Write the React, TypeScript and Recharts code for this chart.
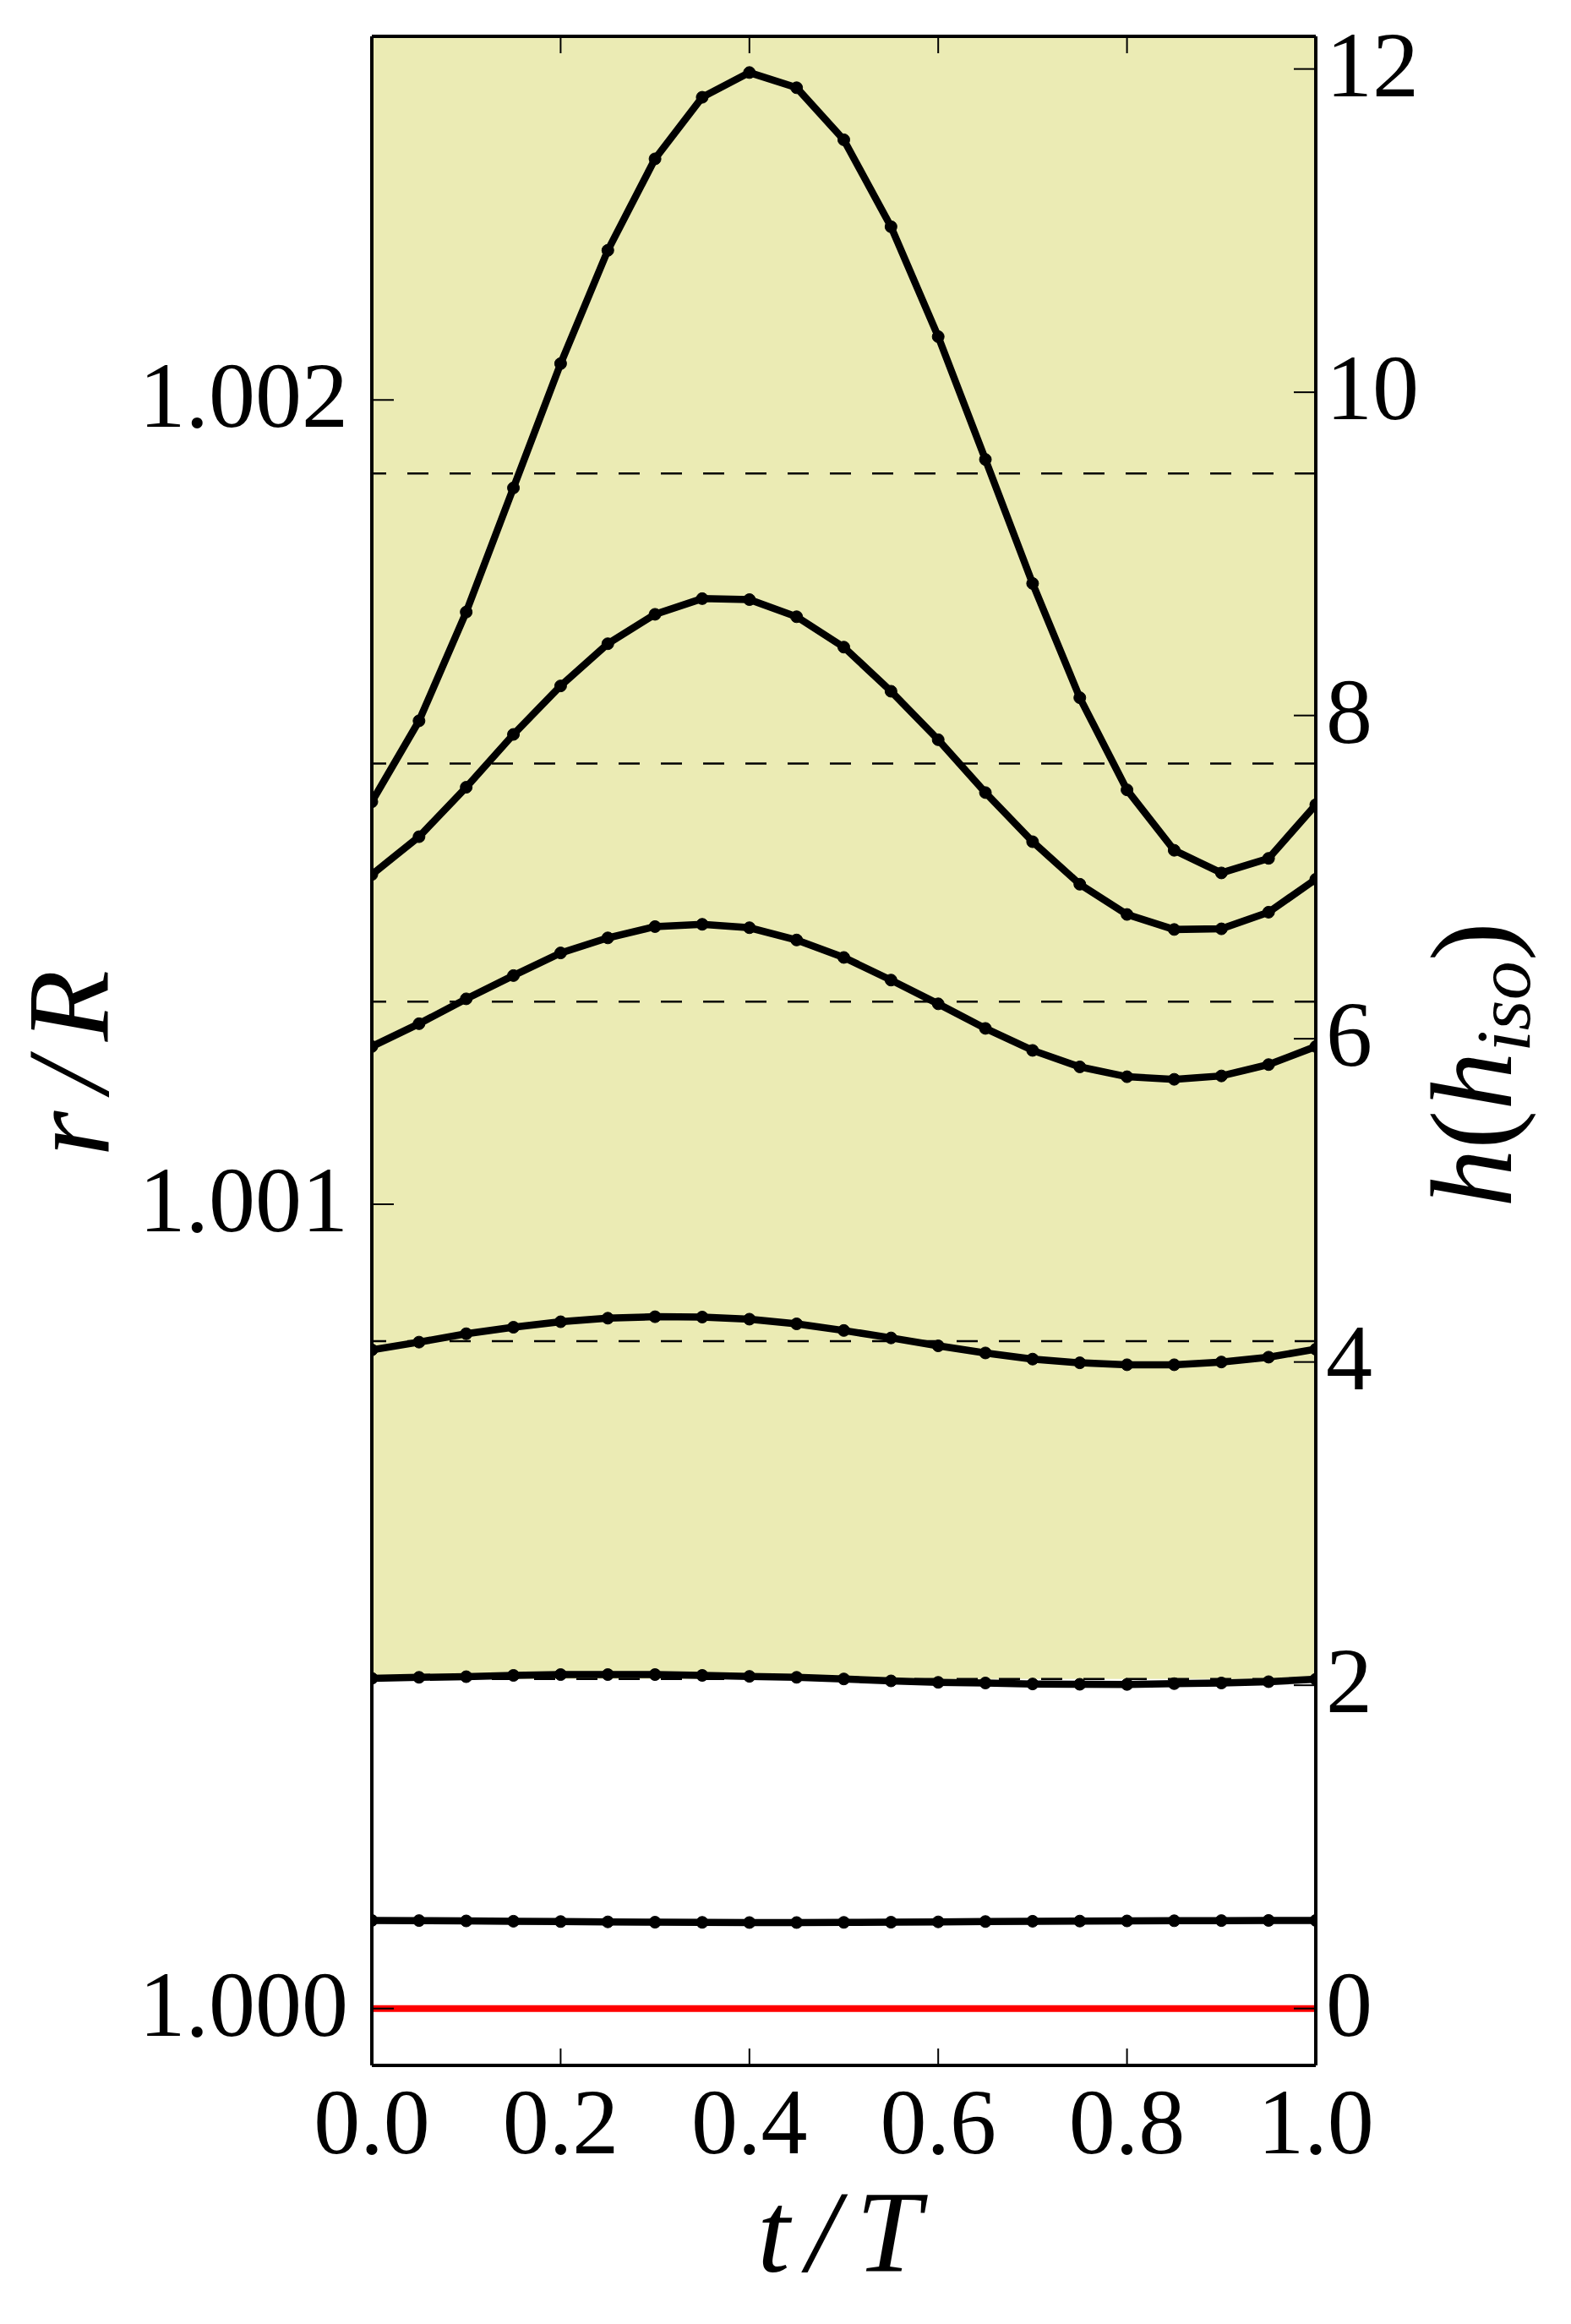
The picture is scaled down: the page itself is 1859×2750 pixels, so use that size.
import { LineChart, Line, XAxis, YAxis, ReferenceArea, ReferenceLine } from 'recharts';

// time samples (t/T)
const T_VALUES = [0, 0.05, 0.1, 0.15, 0.2, 0.25, 0.3, 0.35, 0.4, 0.45, 0.5, 0.55, 0.6, 0.65, 0.7, 0.75, 0.8, 0.85, 0.9, 0.95, 1];

// layer heights in units of h_iso, bottom to top
const H_SURFACE = [0, 0, 0, 0, 0, 0, 0, 0, 0, 0, 0, 0, 0, 0, 0, 0, 0, 0, 0, 0, 0];
const H_LAYER1 = [0.545, 0.544, 0.542, 0.540, 0.538, 0.536, 0.534, 0.533, 0.532, 0.532, 0.533, 0.534, 0.536, 0.538, 0.540, 0.541, 0.542, 0.543, 0.544, 0.545, 0.545];
const H_LAYER2 = [2.043, 2.049, 2.053, 2.061, 2.066, 2.066, 2.066, 2.061, 2.055, 2.049, 2.039, 2.027, 2.018, 2.014, 2.008, 2.006, 2.005, 2.010, 2.014, 2.022, 2.037];
const H_LAYER3 = [4.075, 4.123, 4.175, 4.215, 4.249, 4.271, 4.280, 4.278, 4.265, 4.236, 4.195, 4.149, 4.100, 4.056, 4.018, 3.995, 3.983, 3.983, 4.000, 4.030, 4.079];
const H_LAYER4 = [5.952, 6.093, 6.247, 6.391, 6.531, 6.624, 6.694, 6.708, 6.687, 6.611, 6.503, 6.363, 6.216, 6.064, 5.928, 5.826, 5.765, 5.749, 5.770, 5.840, 5.952];
const H_LAYER5 = [7.016, 7.250, 7.556, 7.883, 8.183, 8.444, 8.626, 8.723, 8.717, 8.611, 8.423, 8.150, 7.850, 7.523, 7.219, 6.956, 6.769, 6.676, 6.680, 6.783, 6.987];
const H_LAYER6 = [7.466, 7.967, 8.640, 9.408, 10.177, 10.878, 11.444, 11.825, 11.978, 11.884, 11.562, 11.024, 10.344, 9.584, 8.817, 8.110, 7.540, 7.166, 7.026, 7.116, 7.448];

// dashed mean levels and start of the shaded band
const MEAN_LEVELS = [2.039, 4.129, 6.230, 7.703, 9.497];
const SHADE_FROM = 2.039;

// axes
const X_TICKS = [0, 0.2, 0.4, 0.6, 0.8, 1];
const R_TICKS = [1.0, 1.001, 1.002];
const H_TICKS = [0, 2, 4, 6, 8, 10, 12];
const H_DOMAIN = [-0.352, 12.202];
const R_DOMAIN = [0.9999293, 1.0024521];

const LAYERS = [H_LAYER1, H_LAYER2, H_LAYER3, H_LAYER4, H_LAYER5, H_LAYER6];

const data = T_VALUES.map((t, i) => {
  const row: any = { t, surface: H_SURFACE[i] };
  LAYERS.forEach((arr, k) => {
    row['l' + (k + 1)] = arr[i];
  });
  return row;
});

// layout
const W = 1859;
const H = 2750;
const PLOT_LEFT = 440;
const PLOT_RIGHT = 1557;
const PLOT_TOP = 43;
const PLOT_BOTTOM = 2444;
const FONT = 'Liberation Serif';
const TICK_FONT = 110;
const TITLE_FONT = 138;

function BottomTick(props: any) {
  const { x, y, payload } = props;
  return (
    <g>
      <line x1={x} y1={y} x2={x} y2={y - 20} stroke="#000" strokeWidth={2} />
      <text x={x} y={y + 104} textAnchor="middle" fontFamily={FONT} fontSize={TICK_FONT} fill="#000">
        {Number(payload.value).toFixed(1)}
      </text>
    </g>
  );
}

function TopTick(props: any) {
  const { x, y } = props;
  return <line x1={x} y1={y} x2={x} y2={y + 20} stroke="#000" strokeWidth={2} />;
}

function LeftTick(props: any) {
  const { x, y, payload } = props;
  return (
    <g>
      <line x1={x} y1={y} x2={x + 26} y2={y} stroke="#000" strokeWidth={2} />
      <text x={x - 28} y={y + 32} textAnchor="end" fontFamily={FONT} fontSize={TICK_FONT} fill="#000">
        {Number(payload.value).toFixed(3)}
      </text>
    </g>
  );
}

function RightTick(props: any) {
  const { x, y, payload } = props;
  return (
    <g>
      <line x1={x} y1={y} x2={x - 26} y2={y} stroke="#000" strokeWidth={2} />
      <text x={x + 12} y={y + 32} textAnchor="start" fontFamily={FONT} fontSize={TICK_FONT} fill="#000">
        {String(payload.value)}
      </text>
    </g>
  );
}

const XTitle = () => (
  <text x={1003} y={2688} textAnchor="middle" fontFamily={FONT} fontStyle="italic" fontSize={TITLE_FONT} letterSpacing={20} fill="#000">
    t/T
  </text>
);

const RTitle = () => (
  <text x={128} y={1247} transform="rotate(-90, 128, 1247)" textAnchor="middle" fontFamily={FONT} fontStyle="italic" fontSize={TITLE_FONT} letterSpacing={22} fill="#000">
    r/R
  </text>
);

const HTitle = () => (
  <text x={1788} y={1260} transform="rotate(-90, 1788, 1260)" textAnchor="middle" fontFamily={FONT} fontSize={TITLE_FONT} fill="#000">
    <tspan fontStyle="italic">h</tspan>
    <tspan>(</tspan>
    <tspan fontStyle="italic">h</tspan>
    <tspan fontStyle="italic" fontSize={92} dy={22}>iso</tspan>
    <tspan dy={-22}>)</tspan>
  </text>
);

const frame = { stroke: '#000', strokeWidth: 4 };

export default function App() {
  return (
    <div style={{ position: 'absolute', left: 0, top: 0, width: W, height: H, background: '#fff' }}>
      <LineChart width={W} height={H} data={data} margin={{ top: 0, right: 0, bottom: 0, left: 0 }}>
        <XAxis
          xAxisId="b"
          dataKey="t"
          type="number"
          domain={[0, 1]}
          ticks={X_TICKS}
          interval={0}
          allowDataOverflow
          orientation="bottom"
          height={H - PLOT_BOTTOM}
          tickSize={0}
          tickMargin={0}
          tickLine={false}
          axisLine={frame}
          tick={<BottomTick />}
          label={{ content: () => <XTitle /> }}
        />
        <XAxis
          xAxisId="top"
          dataKey="t"
          type="number"
          domain={[0, 1]}
          ticks={X_TICKS}
          interval={0}
          allowDataOverflow
          orientation="top"
          height={PLOT_TOP}
          tickSize={0}
          tickMargin={0}
          tickLine={false}
          axisLine={frame}
          tick={<TopTick />}
        />
        <YAxis
          yAxisId="r"
          orientation="left"
          type="number"
          domain={R_DOMAIN}
          ticks={R_TICKS}
          interval={0}
          allowDataOverflow
          width={PLOT_LEFT}
          tickSize={0}
          tickMargin={0}
          tickLine={false}
          axisLine={frame}
          tick={<LeftTick />}
          label={{ content: () => <RTitle /> }}
        />
        <YAxis
          yAxisId="h"
          orientation="right"
          type="number"
          domain={H_DOMAIN}
          ticks={H_TICKS}
          interval={0}
          allowDataOverflow
          width={W - PLOT_RIGHT}
          tickSize={0}
          tickMargin={0}
          tickLine={false}
          axisLine={frame}
          tick={<RightTick />}
          label={{ content: () => <HTitle /> }}
        />

        <ReferenceArea
          xAxisId="b"
          yAxisId="h"
          x1={0}
          x2={1}
          y1={SHADE_FROM}
          y2={H_DOMAIN[1]}
          fill="#ebebb4"
          fillOpacity={1}
          stroke="none"
          ifOverflow="visible"
        />
        {MEAN_LEVELS.map((v) => (
          <ReferenceLine key={v} xAxisId="b" yAxisId="h" y={v} stroke="#000" strokeWidth={2.5} strokeDasharray="25 25" />
        ))}

        <Line
          xAxisId="b"
          yAxisId="h"
          type="linear"
          dataKey="surface"
          stroke="#ff0000"
          strokeWidth={8}
          dot={false}
          activeDot={false}
          isAnimationActive={false}
        />
        {LAYERS.map((_, k) => (
          <Line
            key={k}
            xAxisId="b"
            yAxisId="h"
            type="linear"
            dataKey={'l' + (k + 1)}
            stroke="#000"
            strokeWidth={8.5}
            dot={{ r: 7, fill: '#000', stroke: '#000', strokeWidth: 1 }}
            activeDot={false}
            isAnimationActive={false}
          />
        ))}
      </LineChart>
    </div>
  );
}
